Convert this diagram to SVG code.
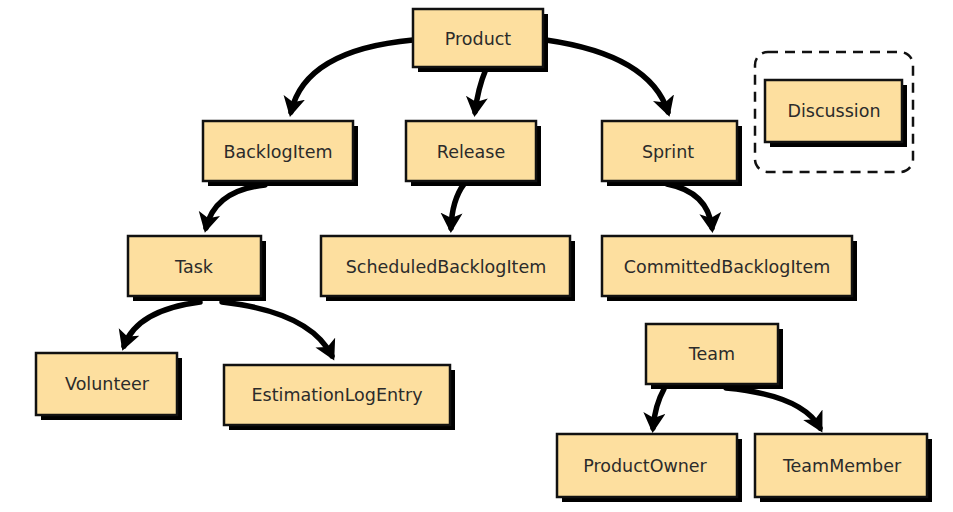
<svg xmlns="http://www.w3.org/2000/svg" width="953" height="512" viewBox="0 0 953 512">
<style>
.shadow{fill:#000}
.box{fill:#FDDF9F;stroke:#111;stroke-width:2.5}
.lbl{font-family:"DejaVu Sans","Liberation Sans",sans-serif;font-size:17.5px;fill:#2b2b2b;text-anchor:middle;dominant-baseline:central}
.edge{fill:none;stroke:#000;stroke-width:5.5;stroke-linecap:round}
</style>
<defs>
<marker id="arr" markerUnits="userSpaceOnUse" markerWidth="24" markerHeight="24" refX="15" refY="11" orient="auto">
<path d="M0,0 L20,11 L0,22 L5,11 z" fill="#000"/>
</marker>
</defs>
<rect width="953" height="512" fill="#fff"/>
<g id="connectors">
<path class="edge" d="M413,40 Q305,50 291,112" marker-end="url(#arr)"/>
<path class="edge" d="M486,69 Q478,88 475,112" marker-end="url(#arr)"/>
<path class="edge" d="M546,40 Q650,55 668,112" marker-end="url(#arr)"/>
<path class="edge" d="M265,185 Q215,190 206,228" marker-end="url(#arr)"/>
<path class="edge" d="M464,184 Q452,200 451,228" marker-end="url(#arr)"/>
<path class="edge" d="M667,184 Q708,192 712,228" marker-end="url(#arr)"/>
<path class="edge" d="M200,302 Q137,310 124,346" marker-end="url(#arr)"/>
<path class="edge" d="M222,302 Q310,312 332,356" marker-end="url(#arr)"/>
<path class="edge" d="M664,389 Q655,405 653,428" marker-end="url(#arr)"/>
<path class="edge" d="M726,388 Q802,395 820,428" marker-end="url(#arr)"/>
</g>
<g id="product"><rect class="shadow" x="418" y="14" width="130" height="58"/><rect class="box" x="413" y="9" width="130" height="58"/><text class="lbl" x="478" y="39">Product</text></g>
<g id="backlogitem"><rect class="shadow" x="208" y="126" width="150" height="60"/><rect class="box" x="203" y="121" width="150" height="60"/><text class="lbl" x="278" y="152">BacklogItem</text></g>
<g id="release"><rect class="shadow" x="411" y="126" width="130" height="60"/><rect class="box" x="406" y="121" width="130" height="60"/><text class="lbl" x="471" y="152">Release</text></g>
<g id="sprint"><rect class="shadow" x="607" y="126" width="135" height="60"/><rect class="box" x="602" y="121" width="135" height="60"/><text class="lbl" x="668" y="152">Sprint</text></g>
<g id="discussion-group"><rect x="755" y="52" width="158" height="120" rx="13" fill="none" stroke="#111" stroke-width="2.5" stroke-dasharray="10,7"/></g>
<g id="discussion"><rect class="shadow" x="770" y="85" width="137" height="62"/><rect class="box" x="765" y="80" width="137" height="62"/><text class="lbl" x="834" y="111">Discussion</text></g>
<g id="task"><rect class="shadow" x="133" y="241" width="133" height="60"/><rect class="box" x="128" y="236" width="133" height="60"/><text class="lbl" x="194" y="267">Task</text></g>
<g id="scheduledbacklogitem"><rect class="shadow" x="326" y="241" width="249" height="60"/><rect class="box" x="321" y="236" width="249" height="60"/><text class="lbl" x="446" y="267">ScheduledBacklogItem</text></g>
<g id="committedbacklogitem"><rect class="shadow" x="607" y="241" width="250" height="60"/><rect class="box" x="602" y="236" width="250" height="60"/><text class="lbl" x="727" y="267">CommittedBacklogItem</text></g>
<g id="volunteer"><rect class="shadow" x="41" y="358" width="141" height="62"/><rect class="box" x="36" y="353" width="141" height="62"/><text class="lbl" x="107" y="384">Volunteer</text></g>
<g id="estimationlogentry"><rect class="shadow" x="229" y="370" width="226" height="60"/><rect class="box" x="224" y="365" width="226" height="60"/><text class="lbl" x="337" y="395">EstimationLogEntry</text></g>
<g id="team"><rect class="shadow" x="651" y="329" width="132" height="60"/><rect class="box" x="646" y="324" width="132" height="60"/><text class="lbl" x="712" y="354">Team</text></g>
<g id="productowner"><rect class="shadow" x="562" y="439" width="180" height="63"/><rect class="box" x="557" y="434" width="180" height="63"/><text class="lbl" x="645" y="466">ProductOwner</text></g>
<g id="teammember"><rect class="shadow" x="760" y="439" width="172" height="63"/><rect class="box" x="755" y="434" width="172" height="63"/><text class="lbl" x="842" y="466">TeamMember</text></g>
</svg>
